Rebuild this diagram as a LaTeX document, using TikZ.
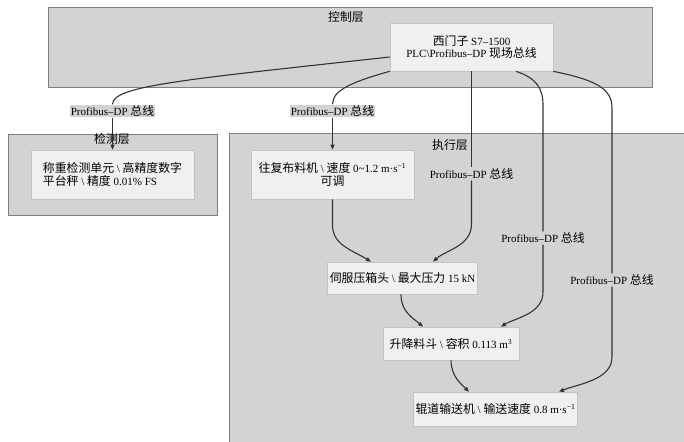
\documentclass[tikz,border=0pt]{standalone}
\usepackage{fontspec}
\setmainfont{Liberation Serif}
\newfontfamily\cjk{Noto Sans CJK SC}[Scale=1.08]
\usetikzlibrary{arrows.meta, calc}
\usepackage{xcolor}
\definecolor{layerbg}{HTML}{D3D3D3}
\definecolor{layerline}{HTML}{7F7F7F}
\definecolor{devbg}{HTML}{F0F0F0}
\definecolor{devline}{HTML}{C4C4C4}
\definecolor{wirecol}{HTML}{333333}
\newcommand{\zh}[1]{{\cjk #1}}
\newcommand{\bustext}{Profibus–DP \zh{总线}}

\begin{document}
\begin{tikzpicture}[x=1pt, y=-1pt, font=\fontsize{11}{12.5}\selectfont, >={Triangle[length=5pt, width=4pt]},
  layer/.style={draw=layerline, fill=layerbg, line width=0.8pt},
  ttl/.style={inner sep=0pt},
  dev/.style={draw=devline, fill=devbg, line width=0.6pt, inner sep=2pt, align=center},
  bus/.style={fill=layerbg, inner sep=1pt},
  wire/.style={draw=wirecol, line width=1.1pt},
]
  \useasboundingbox (0,0) rectangle (684,441);
  % layers
  \draw[layer] (48,7) rectangle (652,87);
  \draw[layer] (8,134) rectangle (217,215);
  \draw[layer] (229,133) rectangle (700,460);
  \node[ttl] (tctl) at (346,17) {\zh{控制层}};
  \node[ttl] (tdet) at (112,139) {\zh{检测层}};
  \node[ttl] (texe) at (450,145) {\zh{执行层}};

  \node[dev, minimum width=163pt, minimum height=48pt] (plc) at (471.5,47)
    {\zh{西门子} S7–1500\\PLC\textbackslash Profibus–DP \zh{现场总线}};
  \node[dev, align=left, minimum width=163pt, minimum height=49pt] (det) at (112.5,174.5)
    {\zh{称重检测单元} \textbackslash\ \zh{高精度数字}\\\zh{平台秤} \textbackslash\ \zh{精度} 0.01\% FS};
  \node[dev, minimum width=163pt, minimum height=49pt] (feed) at (332.5,174.5)
    {\zh{往复布料机} \textbackslash\ \zh{速度} 0\textasciitilde 1.2 m·s\textsuperscript{−1}\\\zh{可调}};
  \node[dev, minimum width=149pt, minimum height=32pt] (press) at (402.5,278)
    {\zh{伺服压箱头} \textbackslash\ \zh{最大压力} 15 kN};
  \node[dev, minimum width=136pt, minimum height=33pt] (hop) at (451,343.5)
    {\zh{升降料斗} \textbackslash\ \zh{容积} 0.113 m\textsuperscript{3}};
  \node[dev, minimum width=157pt, minimum height=34pt] (roll) at (495.5,409)
    {\zh{辊道输送机} \textbackslash\ \zh{输送速度} 0.8 m·s\textsuperscript{−1}};

  % bus labels sit on the wires
  \foreach \bn/\bx/\by in {1/112.5/111, 2/332.5/111, 3/471.5/174, 4/543/238, 5/612/280} {
    \node[bus] (b\bn) at (\bx,\by) {\bustext};
  }

  \draw[wire] ($(plc.west)+(0,10)$) .. controls (180,80) and (112.5,86) .. (b1.north);
  \draw[wire, ->] (b1.south) -- (det.north);
  \draw[wire] (plc.south west) .. controls (352,82) and (332.5,90) .. (b2.north);
  \draw[wire, ->] (b2.south) -- (feed.north);
  \draw[wire] (plc.south) -- (b3.north);
  \draw[wire, ->] (b3.south) -- (471.5,224) .. controls (471.5,246) and (446,250) .. ($(press.north)+(30.5,0)$);
  \draw[wire] ($(plc.south)+(44.5,0)$) .. controls (536,78) and (543,88) .. (543,105) -- (b4.north);
  \draw[wire, ->] (b4.south) -- (543,292) .. controls (543,314) and (515,318) .. ($(hop.north)+(50,0)$);
  \draw[wire] (plc.south east) .. controls (595,80) and (612,88) .. (612,108) -- (b5.north);
  \draw[wire, ->] (b5.south) -- (612,357) .. controls (612,380) and (578,384) .. ($(roll.north)+(63.5,0)$);
  \draw[wire, ->] (feed.south) -- (332.5,225) .. controls (332.5,245) and (352,250) .. ($(press.north)+(-31.5,0)$);
  \draw[wire, ->] ($(press.south)+(-1.5,0)$) .. controls (401,312) and (413,318) .. ($(hop.north)+(-28,0)$);
  \draw[wire, ->] (hop.south) .. controls (451,376) and (461,384) .. ($(roll.north)+(-26.5,0)$);
\end{tikzpicture}
\end{document}
